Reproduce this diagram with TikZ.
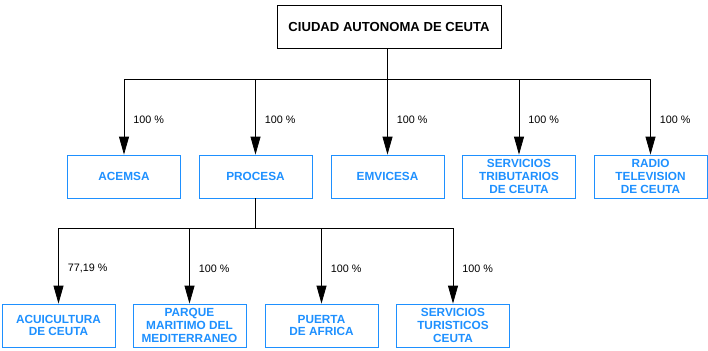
\documentclass[tikz,border=0pt]{standalone}
\usepackage{fontspec}
\setmainfont{Liberation Sans}
\usetikzlibrary{positioning,arrows.meta}
\definecolor{firmblue}{RGB}{30,144,255}

\tikzset{
  headbox/.style={draw=black,line width=0.8pt,minimum width=224pt,minimum height=43pt,
    font=\fontsize{13.1}{15}\selectfont\bfseries},
  firmbox/.style={draw=firmblue,line width=0.8pt,minimum width=113pt,minimum height=43pt,
    text=firmblue,align=center,inner sep=1pt,font=\fontsize{11.8}{12.8}\selectfont\bfseries},
  link/.style={draw=black,line width=0.8pt,-{Triangle[length=18pt,width=10pt]}},
  share/.style={pos=0.77,anchor=west,xshift=9pt,inner sep=0pt,font=\fontsize{10.8}{12}\selectfont}
}

\begin{document}
\begin{tikzpicture}[x=1pt,y=-1pt]
  \useasboundingbox (0,0) rectangle (708,350);

  % matriz
  \node[headbox] (ceuta) at (389,26.5) {CIUDAD AUTONOMA DE CEUTA};

  % primer nivel
  \node[firmbox] (acemsa)   at (124,176.5)   {ACEMSA};
  \node[firmbox] (procesa)  at (255.5,176.5) {PROCESA};
  \node[firmbox] (emvicesa) at (387.5,176.5) {EMVICESA};
  \node[firmbox] (tribut)   at (519,176.5)   {SERVICIOS\\TRIBUTARIOS\\DE CEUTA};
  \node[firmbox] (radio)    at (650.5,176.5) {RADIO\\TELEVISION\\DE CEUTA};

  % segundo nivel
  \node[firmbox] (acuicult) at (58.5,325.5)  {ACUICULTURA\\DE CEUTA};
  \node[firmbox] (parque)   at (189.5,325.5) {PARQUE\\MARITIMO DEL\\MEDITERRANEO};
  \node[firmbox] (puerta)   at (321.5,325.5) {PUERTA\\DE AFRICA};
  \node[firmbox] (turist)   at (453,325.5)   {SERVICIOS\\TURISTICOS\\CEUTA};

  \coordinate (hubtop) at (387,79);
  \coordinate (hubproc) at (procesa.south |- 0,228);

  \draw[line width=0.8pt] (hubtop |- ceuta.south) -- (hubtop);
  \foreach \firm in {acemsa,procesa,emvicesa,tribut,radio}
    \draw[link] (hubtop) -| (\firm.north) node[share] {100 \%};

  \draw[line width=0.8pt] (procesa.south) -- (hubproc);
  \draw[link] (hubproc) -| (acuicult.north) node[share] {77,19 \%};
  \foreach \firm in {parque,puerta,turist}
    \draw[link] (hubproc) -| (\firm.north) node[share] {100 \%};
\end{tikzpicture}
\end{document}
